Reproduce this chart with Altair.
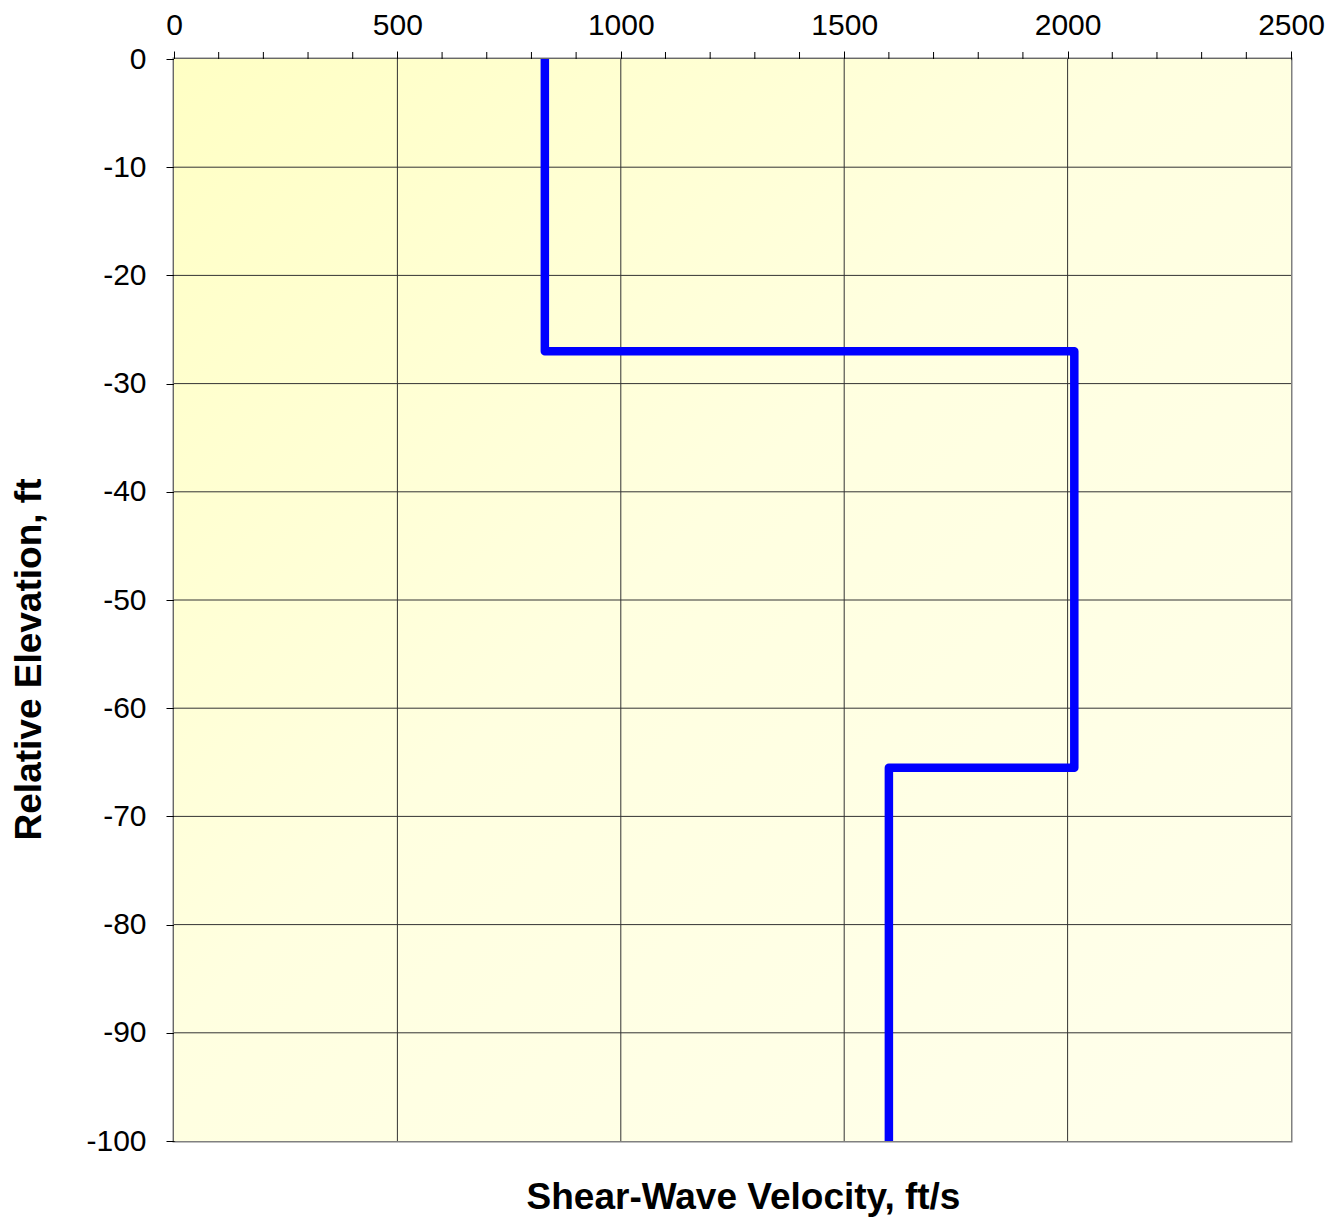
import altair as alt
import pandas as pd

# Step profile (velocity ft/s, elevation ft), drawn in order
velocity = [830, 830, 2015, 2015, 1600, 1600]
elevation = [0, -27, -27, -65.5, -65.5, -100]
x_ticks = [0, 500, 1000, 1500, 2000, 2500]
y_ticks = [0, -10, -20, -30, -40, -50, -60, -70, -80, -90, -100]
minor_x = [100, 200, 300, 400, 600, 700, 800, 900, 1100, 1200, 1300, 1400,
           1600, 1700, 1800, 1900, 2100, 2200, 2300, 2400]

W, H = 1117, 1082
FONT = "Liberation Sans"

df = pd.DataFrame({"v": velocity, "e": elevation, "o": list(range(len(velocity)))})
minor_df = pd.DataFrame({"m": minor_x})
xgrid_df = pd.DataFrame({"gx": x_ticks[1:-1]})
ygrid_df = pd.DataFrame({"gy": y_ticks[1:-1]})
bg_df = pd.DataFrame({"a": [0]})

xscale = alt.Scale(domain=[0, 2500], nice=False, zero=False)
yscale = alt.Scale(domain=[-100, 0], nice=False, zero=False)

gradient = alt.LinearGradient(
    gradient="linear", x1=0, y1=0, x2=1, y2=1,
    stops=[alt.GradientStop(offset=0, color="#FFFFC4"),
           alt.GradientStop(offset=0.45, color="#FFFFE0"),
           alt.GradientStop(offset=1, color="#FFFFEC")],
)

bg = alt.Chart(bg_df).mark_rect(color=gradient, strokeWidth=0).encode(
    x=alt.value(0), x2=alt.value(W), y=alt.value(0), y2=alt.value(H)
)

xgrid = alt.Chart(xgrid_df).mark_rule(color="#333", strokeWidth=1).encode(
    x=alt.X("gx:Q", scale=xscale)
)
ygrid = alt.Chart(ygrid_df).mark_rule(color="#333", strokeWidth=1).encode(
    y=alt.Y("gy:Q", scale=yscale)
)

line = alt.Chart(df).mark_line(color="#0000FF", strokeWidth=8.5, strokeJoin="round", strokeCap="butt").encode(
    x=alt.X("v:Q", scale=xscale,
            axis=alt.Axis(orient="top", values=x_ticks, title=None,
                          labelExpr="datum.value + ''", labelFlush=False,
                          labelFontSize=30, labelFont=FONT, labelColor="#000",
                          labelPadding=11, tickSize=8, tickColor="#000",
                          domainColor="#222", domainWidth=1.5, grid=False)),
    y=alt.Y("e:Q", scale=yscale,
            axis=alt.Axis(values=y_ticks, title="Relative Elevation, ft",
                          labelExpr="datum.value + ''", labelFlush=False,
                          titleFontSize=37, titleFont=FONT, titleFontWeight="bold",
                          titleColor="#000", titlePadding=37, titleY=600,
                          labelFontSize=30, labelFont=FONT, labelColor="#000",
                          labelPadding=20, tickSize=8, tickColor="#000",
                          domainColor="#222", domainWidth=1.5, grid=False)),
    order="o:Q",
)

minor = alt.Chart(minor_df).mark_rule(color="#000", strokeWidth=1).encode(
    x=alt.X("m:Q", scale=xscale),
    y=alt.value(-7),
    y2=alt.value(0),
)

chart = alt.layer(bg, xgrid, ygrid, line, minor).properties(
    width=W, height=H,
    padding={"left": 2, "top": 2, "right": 5, "bottom": 5},
    title=alt.TitleParams("Shear-Wave Velocity, ft/s", orient="bottom", fontSize=37,
                          font=FONT, fontWeight="bold", color="#000", offset=24, dx=11),
).configure_view(
    stroke="#808080", strokeWidth=3,
)

chart.save("out.html", embed_options={"renderer": "svg", "actions": False})
